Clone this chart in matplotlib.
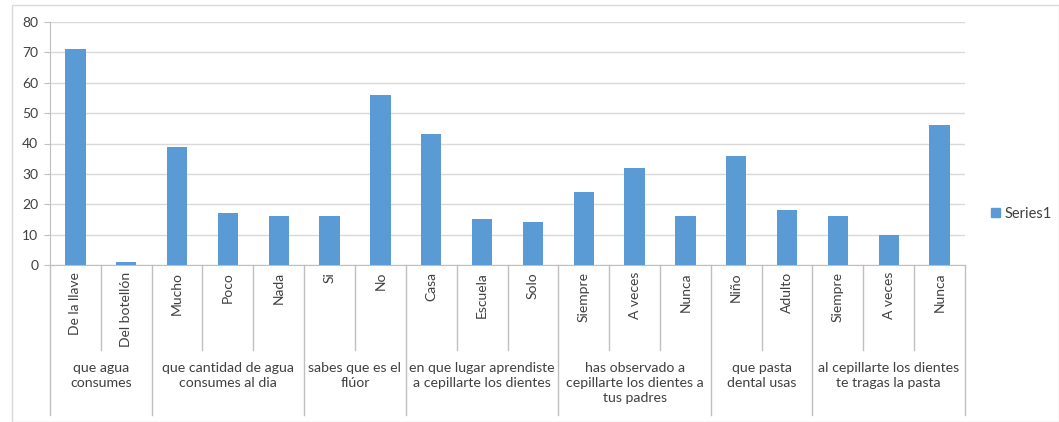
import numpy as np
import matplotlib.pyplot as plt
import matplotlib.transforms as mtransforms
from matplotlib.patches import Rectangle, Patch

plt.rcParams['font.family'] = ['Lato', 'DejaVu Sans']

labels = ['De la llave', 'Del botellón', 'Mucho', 'Poco', 'Nada', 'Si', 'No',
          'Casa', 'Escuela', 'Solo', 'Siempre', 'A veces', 'Nunca', 'Niño',
          'Adulto', 'Siempre', 'A veces', 'Nunca']
values = [71, 1, 39, 17, 16, 16, 56, 43, 15, 14, 24, 32, 16, 36, 18, 16, 10, 46]
groups = ['que agua\nconsumes', 'que cantidad de agua\nconsumes al dia',
          'sabes que es el\nflúor', 'en que lugar aprendiste\na cepillarte los dientes',
          'has observado a\ncepillarte los dientes a\ntus padres',
          'que pasta\ndental usas', 'al cepillarte los dientes\nte tragas la pasta']
group_sizes = [2, 3, 2, 3, 3, 2, 3]

W, H = 1059, 422
fig = plt.figure(figsize=(W / 100, H / 100), dpi=100)
ax = fig.add_axes([50 / W, 1 - 265 / H, (965 - 50) / W, (265 - 22) / H])

bar_color = '#5B9BD5'
grid_color = '#D9D9D9'
axis_color = '#BFBFBF'
text_color = '#404040'

x = np.arange(len(values))
ax.bar(x, values, width=0.4, color=bar_color, zorder=3)
ax.set_xlim(-0.5, len(values) - 0.5)
ax.set_ylim(0, 80)
ax.set_yticks(range(0, 81, 10))
ax.yaxis.grid(True, color=grid_color, linewidth=1)
ax.set_axisbelow(True)
for s in ['top', 'right']:
    ax.spines[s].set_visible(False)
ax.spines['left'].set_color(axis_color)
ax.spines['bottom'].set_color(axis_color)
ax.tick_params(axis='y', colors=axis_color, length=4.5, pad=4,
               labelcolor=text_color, labelsize=10)
ax.set_xticks([])

# category labels and tick lines
trans = mtransforms.blended_transform_factory(ax.transData, ax.transAxes)
px = 1 / 243.0
for i, lab in enumerate(labels):
    ax.text(i, -7 * px, lab, rotation=90, ha='center', va='top', fontsize=10,
            color=text_color, transform=trans)

bounds = np.concatenate([[0], np.cumsum(group_sizes)])
for b in range(len(values) + 1):
    y_end = -150 * px if b in bounds else -85 * px
    ax.plot([b - 0.5, b - 0.5], [0, y_end], color=axis_color, lw=1,
            transform=trans, clip_on=False)

for g, name in enumerate(groups):
    mid = (bounds[g] + bounds[g + 1] - 1) / 2
    ax.text(mid, -97 * px, name, ha='center', va='top', fontsize=10.2,
            color=text_color, transform=trans, linespacing=1.3)

# legend
fig.legend(handles=[Patch(color=bar_color, label='Series1')], loc='center left',
           bbox_to_anchor=(978 / W, 1 - 214 / H), frameon=False, fontsize=10.5,
           handlelength=0.6, handleheight=0.6, handletextpad=0.3,
           labelcolor=text_color)

# chart border
fig.patches.append(Rectangle((12 / W, 0), 1 - 12 / W - 0.5 / W, 1 - 5 / H,
                             transform=fig.transFigure, fill=False,
                             edgecolor='#D9D9D9', lw=1))

fig.savefig('out.png', dpi=100)
